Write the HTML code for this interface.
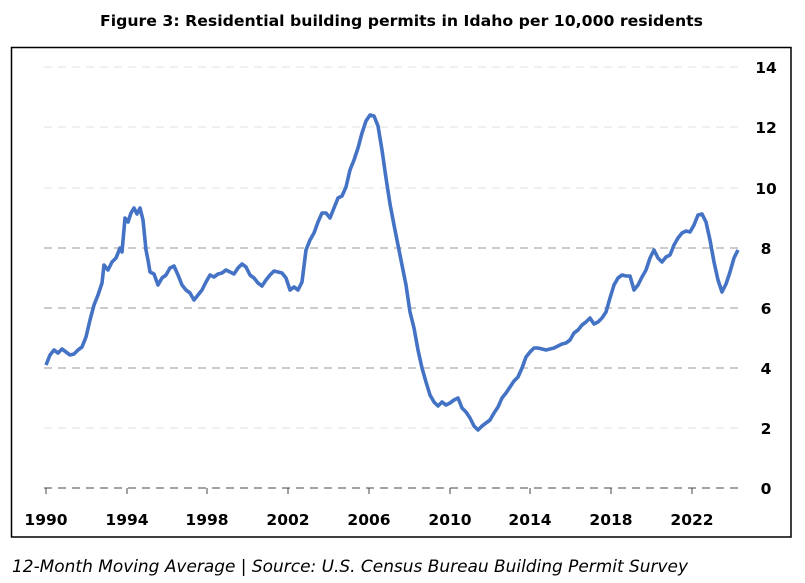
<!DOCTYPE html>
<html><head><meta charset="utf-8"><style>
body{margin:0;width:805px;height:583px;background:#fff;overflow:hidden}
svg{display:block}
text{font-family:"DejaVu Sans","Liberation Sans",sans-serif}
</style></head><body>
<svg width="805" height="583" viewBox="0 0 805 583">
<text x="100" y="26" font-size="15.5" font-weight="bold" textLength="603" lengthAdjust="spacingAndGlyphs">Figure 3: Residential building permits in Idaho per 10,000 residents</text>
<rect x="11.5" y="47.5" width="779.5" height="489.5" fill="none" stroke="#000" stroke-width="1.5"/>
<g stroke-dasharray="8,6" stroke-width="1">
<line x1="44" x2="740" y1="67" y2="67" stroke="#e0e0e0"/>
<line x1="44" x2="740" y1="127" y2="127" stroke="#e0e0e0"/>
<line x1="44" x2="740" y1="188" y2="188" stroke="#e0e0e0"/>
<line x1="44" x2="740" y1="248" y2="248" stroke="#999"/>
<line x1="44" x2="740" y1="308" y2="308" stroke="#999"/>
<line x1="44" x2="740" y1="368" y2="368" stroke="#999"/>
<line x1="44" x2="740" y1="428" y2="428" stroke="#e0e0e0"/>
<line x1="44" x2="740" y1="488" y2="488" stroke="#444"/>
</g>
<g stroke="#444" stroke-width="1">
<line x1="46" x2="46" y1="488" y2="494"/><line x1="127" x2="127" y1="488" y2="494"/><line x1="207" x2="207" y1="488" y2="494"/><line x1="288" x2="288" y1="488" y2="494"/><line x1="369" x2="369" y1="488" y2="494"/><line x1="450" x2="450" y1="488" y2="494"/><line x1="530" x2="530" y1="488" y2="494"/><line x1="611" x2="611" y1="488" y2="494"/><line x1="692" x2="692" y1="488" y2="494"/>
</g>
<g font-size="15.5" font-weight="bold" text-anchor="middle">
<text x="46" y="525">1990</text><text x="127" y="525">1994</text><text x="207" y="525">1998</text><text x="288" y="525">2002</text><text x="369" y="525">2006</text><text x="450" y="525">2010</text><text x="530" y="525">2014</text><text x="611" y="525">2018</text><text x="692" y="525">2022</text>
</g>
<g font-size="15.5" font-weight="bold" text-anchor="middle">
<text x="766" y="73">14</text><text x="766" y="133">12</text><text x="766" y="194">10</text><text x="766" y="254">8</text><text x="766" y="314">6</text><text x="766" y="374">4</text><text x="766" y="434">2</text><text x="766" y="494">0</text>
</g>
<polyline fill="none" stroke="#4472c4" stroke-width="3.6" stroke-linejoin="round" points="46,365 50,355 54,350 58,353 62,349 66,352 70,355 74,354 78,350 82,347 86,337 90,320 94,305 98,295 102,283 104,265 108,270 112,262 116,258 120,248 122,252 125,218 128,222 131,213 134,208 137,214 140,208 143,220 146,250 148,260 150,272 154,274 158,285 162,278 166,275 170,268 174,266 178,275 182,285 186,290 190,293 194,300 198,295 202,290 206,282 210,275 214,277 218,274 222,273 226,270 230,272 234,274 238,268 242,264 246,267 250,275 254,278 258,283 262,286 266,280 270,275 274,271 278,272 282,273 286,278 290,290 294,287 298,290 302,282 306,250 310,240 314,233 318,222 322,213 326,213 330,218 334,208 338,198 342,196 346,187 350,170 354,160 358,148 362,133 366,121 370,115 374,116 378,126 382,150 386,178 390,204 394,225 398,245 402,265 406,285 410,312 414,328 418,350 422,368 426,382 430,395 434,402 438,406 442,402 446,405 450,403 454,400 458,398 462,408 466,412 470,418 474,426 478,430 482,426 486,423 490,420 494,413 498,407 502,398 506,393 510,387 514,381 518,377 522,368 526,357 530,352 534,348 538,348 542,349 546,350 550,349 554,348 558,346 562,344 566,343 570,340 574,333 578,330 582,325 586,322 590,318 594,324 598,322 602,318 606,312 610,298 614,285 618,278 622,275 626,276 630,276 634,290 638,285 642,277 646,270 650,258 654,250 658,258 662,262 666,257 670,255 674,245 678,238 682,233 686,231 690,232 694,225 698,215 702,214 706,222 710,240 714,262 718,280 722,292 726,284 730,272 734,258 738,250"/>
<text x="12" y="572" font-size="16.5" font-style="italic" textLength="676" lengthAdjust="spacingAndGlyphs">12-Month Moving Average | Source: U.S. Census Bureau Building Permit Survey</text>
</svg>
</body></html>
